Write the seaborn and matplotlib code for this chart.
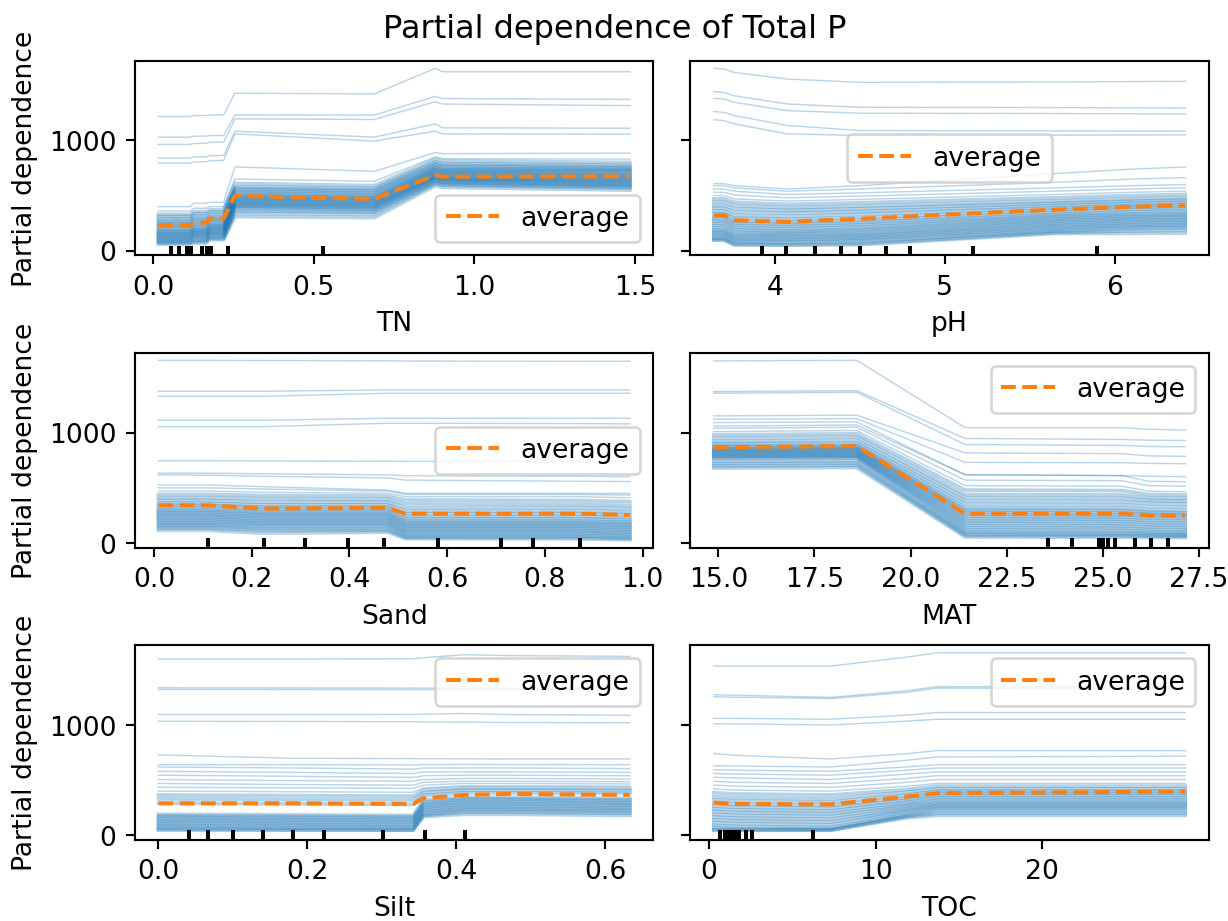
import numpy as np
import pandas as pd
import matplotlib
matplotlib.use("Agg")
import matplotlib.pyplot as plt
import matplotlib.transforms as mtransforms
import seaborn as sns

TITLE = "Partial dependence of Total P"
YLABEL = "Partial dependence"
features = ["TN", "pH", "Sand", "MAT", "Silt", "TOC"]

# ---------------- TN ----------------
tn_x = [0.016, 0.115, 0.125, 0.165, 0.175, 0.219, 0.254, 0.688, 0.878, 0.90, 1.484]
tn_avg = [232, 232, 250, 255, 290, 292, 497, 470, 684, 672, 675]
tn_ice = [
    [1217, 1217, 1225, 1226, 1230, 1232, 1428, 1422, 1654, 1623, 1623],
    [1030, 1030, 1038, 1040, 1044, 1045, 1232, 1230, 1400, 1380, 1372],
    [964, 964, 972, 975, 983, 985, 1196, 1190, 1352, 1330, 1316],
    [840, 840, 850, 852, 862, 864, 1084, 1030, 1150, 1115, 1111],
    [795, 795, 805, 808, 817, 819, 1060, 994, 1084, 1060, 1057],
    [400, 400, 430, 430, 440, 440, 760, 720, 890, 880, 885],
    [360, 360, 385, 385, 400, 400, 650, 630, 850, 835, 830],
    [330, 330, 355, 355, 370, 370, 610, 590, 830, 815, 800],
    [310, 310, 335, 335, 350, 350, 580, 565, 805, 790, 775],
    [290, 290, 315, 315, 330, 330, 565, 550, 790, 775, 760],
    [270, 270, 295, 295, 310, 310, 550, 535, 775, 760, 745],
    [255, 255, 280, 280, 295, 295, 535, 520, 760, 745, 735],
    [240, 240, 262, 262, 280, 280, 520, 505, 750, 735, 725],
    [225, 225, 245, 245, 265, 265, 505, 490, 740, 725, 715],
    [210, 210, 230, 230, 250, 250, 495, 480, 730, 715, 700],
    [195, 195, 215, 215, 235, 235, 485, 470, 720, 705, 690],
    [180, 180, 200, 200, 225, 225, 475, 460, 710, 695, 680],
    [170, 170, 190, 190, 215, 215, 465, 450, 700, 685, 670],
    [160, 160, 180, 180, 205, 205, 455, 440, 690, 675, 660],
    [150, 150, 170, 170, 195, 195, 445, 430, 680, 665, 650],
    [140, 140, 160, 160, 185, 185, 435, 420, 670, 655, 640],
    [130, 130, 150, 150, 175, 175, 425, 410, 665, 650, 630],
    [120, 120, 140, 140, 165, 165, 415, 400, 660, 645, 620],
    [110, 110, 130, 130, 155, 155, 405, 390, 650, 635, 610],
    [100, 100, 118, 118, 145, 145, 395, 380, 640, 625, 600],
    [90, 90, 106, 106, 135, 135, 380, 365, 630, 615, 590],
    [80, 80, 94, 94, 120, 120, 360, 350, 620, 605, 580],
    [70, 70, 82, 82, 110, 110, 340, 330, 610, 595, 570],
    [60, 60, 70, 70, 100, 100, 310, 300, 590, 575, 550],
]
tn_isolated = 7
tn_deciles = [0.056, 0.08, 0.104, 0.118, 0.152, 0.166, 0.18, 0.233, 0.529]
tn_xticks = [0.0, 0.5, 1.0, 1.5]

# ---------------- pH ----------------
ph_x = [3.64, 3.70, 3.76, 4.07, 4.50, 5.65, 6.10, 6.415]
ph_avg = [322, 322, 277, 262, 290, 373, 398, 413]
ph_ice = [
    [1654, 1648, 1617, 1557, 1527, 1530, 1534, 1536],
    [1443, 1435, 1405, 1331, 1301, 1298, 1296, 1295],
    [1383, 1375, 1346, 1271, 1247, 1244, 1242, 1241],
    [1262, 1255, 1226, 1136, 1090, 1087, 1085, 1084],
    [1187, 1180, 1151, 1060, 1045, 1048, 1050, 1051],
    [608, 608, 590, 560, 590, 700, 740, 759],
    [590, 590, 570, 540, 560, 620, 650, 663],
    [560, 560, 540, 510, 525, 570, 590, 600],
    [530, 530, 505, 480, 495, 540, 560, 570],
    [500, 500, 470, 450, 465, 510, 530, 540],
    [470, 470, 440, 420, 435, 480, 500, 510],
    [440, 440, 410, 390, 405, 450, 470, 480],
    [410, 410, 380, 365, 380, 430, 450, 460],
    [385, 385, 350, 340, 355, 410, 430, 440],
    [360, 360, 320, 310, 330, 390, 410, 420],
    [335, 335, 295, 285, 300, 370, 395, 400],
    [310, 310, 270, 260, 275, 350, 375, 380],
    [290, 290, 250, 240, 255, 330, 355, 360],
    [270, 270, 230, 220, 235, 315, 335, 340],
    [250, 250, 210, 200, 215, 300, 320, 325],
    [230, 230, 190, 180, 195, 285, 305, 310],
    [210, 210, 170, 165, 180, 270, 290, 295],
    [190, 190, 150, 150, 160, 255, 275, 280],
    [175, 175, 135, 135, 145, 240, 260, 265],
    [160, 160, 120, 120, 130, 225, 245, 250],
    [145, 145, 105, 105, 115, 210, 230, 235],
    [130, 130, 90, 90, 100, 195, 215, 220],
    [115, 115, 75, 75, 85, 180, 200, 205],
    [100, 100, 60, 55, 65, 165, 180, 185],
    [96, 96, 51, 51, 55, 157, 157, 160],
]
ph_isolated = 10
ph_deciles = [3.921, 4.067, 4.235, 4.387, 4.498, 4.654, 4.796, 5.166, 5.895]
ph_xticks = [4, 5, 6]

# ---------------- Sand ----------------
sand_x = [0.009, 0.11, 0.22, 0.478, 0.515, 0.87, 0.974]
sand_avg = [342, 342, 312, 318, 266, 266, 254]
sand_ice = [
    [1657, 1657, 1655, 1652, 1650, 1648, 1648],
    [1376, 1376, 1376, 1388, 1388, 1388, 1388],
    [1330, 1330, 1330, 1358, 1358, 1358, 1358],
    [1113, 1113, 1113, 1131, 1131, 1131, 1131],
    [1055, 1055, 1055, 1086, 1086, 1083, 1080],
    [746, 746, 744, 742, 740, 740, 740],
    [633, 633, 628, 618, 610, 605, 602],
    [618, 615, 605, 590, 570, 560, 557],
    [526, 526, 511, 480, 450, 450, 450],
    [500, 500, 490, 470, 440, 440, 435],
    [470, 470, 460, 450, 420, 420, 410],
    [440, 440, 430, 425, 390, 385, 375],
    [410, 410, 400, 395, 355, 350, 340],
    [385, 385, 370, 370, 320, 320, 310],
    [360, 360, 345, 345, 290, 290, 280],
    [340, 340, 325, 325, 265, 265, 255],
    [320, 320, 305, 305, 240, 240, 230],
    [300, 300, 285, 285, 220, 220, 210],
    [285, 285, 270, 270, 200, 200, 190],
    [270, 270, 255, 255, 185, 185, 175],
    [255, 255, 240, 240, 170, 170, 160],
    [240, 240, 225, 225, 155, 155, 145],
    [225, 225, 210, 210, 140, 140, 130],
    [210, 210, 195, 195, 125, 125, 115],
    [195, 195, 180, 180, 110, 110, 100],
    [180, 180, 165, 165, 95, 95, 85],
    [165, 165, 150, 150, 80, 80, 70],
    [150, 150, 130, 130, 65, 65, 55],
    [135, 135, 115, 115, 50, 50, 40],
    [115, 115, 90, 98, 40, 38, 30],
]
sand_isolated = 11
sand_deciles = [0.111, 0.226, 0.308, 0.397, 0.471, 0.581, 0.711, 0.775, 0.872]
sand_xticks = [0.0, 0.2, 0.4, 0.6, 0.8, 1.0]

# ---------------- MAT ----------------
mat_x = [14.88, 18.6, 21.42, 25.5, 26.2, 27.15]
mat_avg = [869, 878, 266, 266, 251, 251]
mat_ice = [
    [1651, 1657, 1046, 1046, 1031, 1024],
    [1373, 1382, 948, 939, 932, 930],
    [1358, 1367, 893, 885, 875, 872],
    [1153, 1159, 817, 810, 790, 786],
    [1122, 1128, 731, 728, 722, 719],
    [1092, 1098, 618, 612, 605, 602],
    [1060, 1070, 620, 610, 560, 555],
    [1040, 1050, 570, 565, 520, 515],
    [1010, 1020, 520, 515, 470, 465],
    [980, 990, 480, 475, 440, 435],
    [950, 960, 440, 435, 410, 405],
    [920, 930, 410, 405, 385, 380],
    [900, 905, 380, 375, 360, 355],
    [880, 885, 350, 345, 330, 325],
    [865, 870, 320, 315, 300, 295],
    [855, 860, 300, 295, 280, 275],
    [845, 850, 280, 275, 262, 258],
    [835, 840, 260, 255, 245, 240],
    [825, 830, 240, 235, 225, 220],
    [815, 820, 220, 215, 205, 200],
    [805, 810, 200, 195, 185, 180],
    [795, 800, 180, 175, 165, 160],
    [785, 790, 160, 155, 145, 140],
    [775, 780, 140, 135, 125, 120],
    [765, 770, 120, 115, 105, 100],
    [740, 745, 100, 95, 88, 85],
    [720, 725, 85, 80, 75, 72],
    [700, 705, 70, 65, 62, 60],
    [680, 685, 55, 52, 50, 50],
]
mat_isolated = 9
mat_deciles = [23.59, 24.20, 24.90, 25.0, 25.14, 25.31, 25.84, 26.25, 26.71]
mat_xticks = [15.0, 17.5, 20.0, 22.5, 25.0, 27.5]

# ---------------- Silt ----------------
silt_x = [0.0, 0.18, 0.342, 0.356, 0.41, 0.47, 0.633]
silt_avg = [290, 290, 284, 335, 366, 375, 366]
silt_ice = [
    [1598, 1598, 1600, 1610, 1637, 1630, 1622],
    [1338, 1336, 1335, 1335, 1334, 1333, 1332],
    [1323, 1322, 1321, 1321, 1320, 1320, 1320],
    [1095, 1095, 1096, 1098, 1104, 1095, 1088],
    [1034, 1032, 1030, 1028, 1026, 1023, 1021],
    [729, 698, 695, 694, 693, 692, 692],
    [640, 640, 638, 640, 642, 641, 640],
    [619, 610, 600, 610, 610, 610, 605],
    [580, 570, 560, 575, 575, 575, 570],
    [545, 535, 525, 540, 545, 545, 540],
    [505, 495, 490, 505, 515, 515, 510],
    [470, 460, 455, 480, 490, 490, 485],
    [435, 430, 425, 455, 470, 470, 465],
    [400, 395, 390, 430, 450, 450, 445],
    [365, 360, 355, 410, 430, 430, 425],
    [330, 325, 320, 385, 410, 410, 405],
    [290, 285, 280, 360, 385, 385, 380],
    [190, 185, 180, 320, 345, 345, 335],
    [175, 170, 165, 300, 330, 330, 320],
    [160, 155, 150, 285, 315, 315, 305],
    [145, 140, 135, 270, 300, 300, 290],
    [130, 125, 120, 255, 285, 285, 275],
    [115, 110, 105, 240, 270, 270, 260],
    [100, 95, 90, 225, 255, 255, 245],
    [85, 80, 75, 210, 240, 240, 230],
    [70, 65, 60, 195, 225, 225, 215],
    [55, 50, 46, 180, 210, 210, 200],
    [46, 46, 46, 170, 190, 190, 180],
]
silt_isolated = 14
silt_deciles = [0.041, 0.067, 0.100, 0.140, 0.180, 0.222, 0.302, 0.358, 0.411]
silt_xticks = [0.0, 0.2, 0.4, 0.6]

# ---------------- TOC ----------------
toc_x = [0.29, 1.6, 7.3, 11.9, 13.7, 28.6]
toc_avg = [296, 284, 280, 351, 381, 396]
toc_ice = [
    [1534, 1534, 1534, 1616, 1655, 1655],
    [1274, 1270, 1250, 1311, 1348, 1348],
    [1256, 1252, 1240, 1296, 1335, 1329],
    [1061, 1060, 1052, 1090, 1113, 1113],
    [1012, 1010, 1000, 1035, 1052, 1052],
    [741, 725, 692, 740, 768, 768],
    [631, 628, 619, 680, 710, 717],
    [595, 590, 580, 620, 640, 640],
    [560, 555, 545, 590, 610, 610],
    [525, 520, 505, 555, 575, 575],
    [490, 480, 470, 515, 540, 540],
    [455, 445, 435, 480, 505, 505],
    [420, 410, 400, 445, 470, 470],
    [385, 375, 365, 415, 445, 445],
    [350, 340, 330, 390, 420, 420],
    [320, 310, 300, 365, 400, 400],
    [290, 280, 270, 340, 380, 380],
    [265, 255, 245, 320, 360, 360],
    [240, 230, 220, 300, 340, 340],
    [215, 205, 195, 280, 320, 320],
    [190, 180, 170, 265, 300, 300],
    [165, 155, 145, 245, 285, 285],
    [140, 130, 120, 230, 270, 270],
    [115, 105, 95, 215, 255, 255],
    [90, 80, 70, 195, 240, 240],
    [70, 60, 55, 180, 220, 220],
    [50, 46, 46, 170, 200, 200],
    [46, 46, 46, 160, 180, 180],
]
toc_isolated = 13
toc_deciles = [0.66, 0.97, 1.18, 1.39, 1.60, 1.80, 2.22, 2.59, 6.22]
toc_xticks = [0, 10, 20]

yticks = [0, 1000]
legend_locs = ["lower right", "center", "center right", "upper right", "upper right", "upper right"]

panels = [
    (tn_x, tn_ice, tn_avg, tn_deciles, tn_xticks, tn_isolated),
    (ph_x, ph_ice, ph_avg, ph_deciles, ph_xticks, ph_isolated),
    (sand_x, sand_ice, sand_avg, sand_deciles, sand_xticks, sand_isolated),
    (mat_x, mat_ice, mat_avg, mat_deciles, mat_xticks, mat_isolated),
    (silt_x, silt_ice, silt_avg, silt_deciles, silt_xticks, silt_isolated),
    (toc_x, toc_ice, toc_avg, toc_deciles, toc_xticks, toc_isolated),
]

plt.rcParams["font.family"] = ["DejaVu Sans"]
fig, axes = plt.subplots(3, 2, figsize=(6.4, 4.8), dpi=192, sharey=True)
fig.subplots_adjust(left=0.1098, right=0.9837, bottom=0.088, top=0.9337,
                    wspace=0.071, hspace=0.50)

for i, (ax, name, (xs, ice, avg, dec, xt, n_iso)) in enumerate(zip(axes.flat, features, panels)):
    rows = []
    for lid, line in enumerate(ice):
        for xv, yv in zip(xs, line):
            rows.append((lid, "iso" if lid < n_iso else "band", xv, yv))
    df = pd.DataFrame(rows, columns=["line", "group", "x", "y"])
    sns.lineplot(data=df[df.group == "iso"], x="x", y="y", units="line", estimator=None,
                 color="tab:blue", alpha=0.3, linewidth=0.55, ax=ax, legend=False)
    sns.lineplot(data=df[df.group == "band"], x="x", y="y", units="line", estimator=None,
                 color="tab:blue", alpha=0.33, linewidth=1.4, ax=ax, legend=False)
    avg_df = pd.DataFrame({"x": xs, "y": avg})
    sns.lineplot(data=avg_df, x="x", y="y", color="tab:orange", linestyle="--",
                 linewidth=1.5, label="average", ax=ax)
    trans = mtransforms.blended_transform_factory(ax.transData, ax.transAxes)
    ax.vlines(dec, 0, 0.05, transform=trans, color="k", linewidth=1.5)
    ax.set_ylim(-42, 1725)
    ax.set_yticks(yticks)
    ax.set_xticks(xt)
    ax.set_xlabel(name, fontsize=10)
    if i % 2 == 0:
        ax.set_ylabel(YLABEL, fontsize=10)
    else:
        ax.set_ylabel("")
        ax.tick_params(labelleft=False)
    ax.legend(loc=legend_locs[i], fontsize=10)

fig.suptitle(TITLE, fontsize=12, y=0.985)
fig.savefig("out.png", dpi=192)
